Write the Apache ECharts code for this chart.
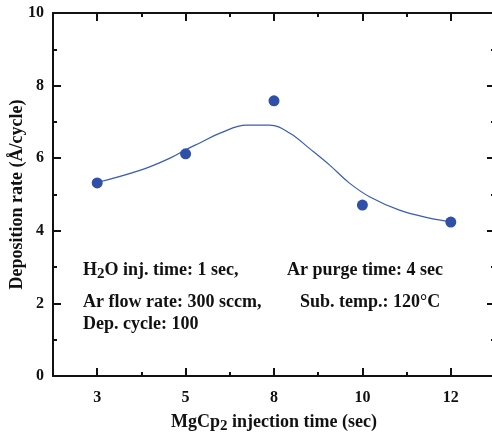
<!DOCTYPE html>
<html>
<head>
<meta charset="utf-8">
<script src="https://cdn.jsdelivr.net/npm/echarts@6/dist/echarts.min.js"></script>
<style>
  html, body { margin: 0; padding: 0; background: #fff; }
  #main { width: 492px; height: 436px; }
</style>
</head>
<body>
<div id="main"></div>
<script>
// MgCp2 injection time (sec)
const categories = ['3', '5', '8', '10', '12'];
// measured deposition rate (A/cycle)
const depositionRate = [5.32, 6.12, 7.58, 4.71, 4.24];
// fitted curve, x given as category index
const fitX = [0, 0.49, 0.83, 1.0, 1.16, 1.39, 1.69, 1.95, 2.18, 2.40, 2.63, 2.85, 3.08, 3.42, 3.76, 4];
const fitY = [5.33, 5.67, 6.01, 6.23, 6.42, 6.69, 6.91, 6.91, 6.69, 6.27, 5.81, 5.32, 4.94, 4.57, 4.35, 4.25];
const yTicks = [0, 2, 4, 6, 8, 10];

const serif = "'Liberation Serif', 'Times New Roman', serif";
const ink = '#111';
const blue = '#2f4fa8';

let chart = echarts.init(document.getElementById('main'), null, { renderer: 'canvas' });

// major ticks at the categories, minor ticks in between
function catAxis (pos, major, show) {
  return {
    type: 'category',
    position: pos,
    data: categories,
    boundaryGap: true,
    axisLine: { show: show, onZero: false, lineStyle: { color: ink, width: 2 } },
    axisTick: {
      show: true,
      inside: true,
      alignWithLabel: major,
      length: major ? 8 : 4,
      lineStyle: { color: ink, width: 2 }
    },
    axisLabel: { show: false },
    splitLine: { show: false }
  };
}

let bottomAxis = catAxis('bottom', true, true);
bottomAxis.axisLabel = {
  show: true,
  margin: 14,
  color: ink,
  fontFamily: serif,
  fontWeight: 'bold',
  fontSize: 16
};
bottomAxis.name = 'MgCp{sub|2} injection time (sec)';
bottomAxis.nameLocation = 'middle';
bottomAxis.nameGap = 34;
bottomAxis.nameMoveOverlap = false;
bottomAxis.nameTextStyle = {
  color: ink,
  fontFamily: serif,
  fontWeight: 'bold',
  fontSize: 18,
  rich: {
    sub: { fontFamily: serif, fontWeight: 'bold', fontSize: 15, verticalAlign: 'bottom', padding: [9, 0, 0, 0] }
  }
};

function valAxis (pos, labels) {
  return {
    type: 'value',
    position: pos,
    min: 0,
    max: 10,
    interval: 2,
    axisLine: { show: true, onZero: false, lineStyle: { color: ink, width: 2 } },
    axisTick: { show: true, inside: true, length: 8, lineStyle: { color: ink, width: 2 } },
    minorTick: { show: true, splitNumber: 2, length: 4, lineStyle: { color: ink, width: 2 } },
    axisLabel: {
      show: labels,
      margin: 9,
      color: ink,
      fontFamily: serif,
      fontWeight: 'bold',
      fontSize: 16,
      customValues: yTicks
    },
    splitLine: { show: false }
  };
}

let leftAxis = valAxis('left', true);
leftAxis.name = 'Deposition rate (Å/cycle)';
leftAxis.nameLocation = 'middle';
leftAxis.nameGap = 27;
leftAxis.nameMoveOverlap = false;
leftAxis.nameTextStyle = { color: ink, fontFamily: serif, fontWeight: 'bold', fontSize: 18 };

let noteStyle = {
  fill: ink,
  font: 'bold 18px ' + serif
};
function note (left, top, text) {
  return {
    type: 'text',
    left: left,
    top: top,
    style: Object.assign({
      text: text,
      rich: {
        sub: { font: 'bold 15px ' + serif, fill: ink, padding: [8, 0, 0, 0] }
      }
    }, noteStyle)
  };
}

chart.setOption({
  animation: false,
  grid: { left: 53, top: 13, width: 442, height: 363, containLabel: false, outerBoundsMode: 'none' },
  xAxis: [
    bottomAxis,
    catAxis('bottom', false, false),
    catAxis('top', true, true),
    catAxis('top', false, false),
    {
      type: 'value',
      min: -0.5,
      max: 4.5,
      show: false
    }
  ],
  yAxis: [leftAxis, valAxis('right', false)],
  series: [
    {
      name: 'fit',
      type: 'line',
      xAxisIndex: 4,
      yAxisIndex: 0,
      data: fitX.map((x, i) => [x, fitY[i]]),
      smooth: 0.4,
      showSymbol: false,
      lineStyle: { color: '#3a5cb8', width: 1.2 },
      z: 2
    },
    {
      name: 'rate',
      type: 'scatter',
      xAxisIndex: 0,
      yAxisIndex: 0,
      data: depositionRate,
      symbolSize: 11,
      itemStyle: { color: blue, opacity: 1 },
      z: 3
    }
  ],
  graphic: [
    note(83, 261, 'H{sub|2}O inj. time: 1 sec,'),
    note(287, 261, 'Ar purge time: 4 sec'),
    note(83, 293, 'Ar flow rate: 300 sccm,'),
    note(300, 293, 'Sub. temp.: 120°C'),
    note(83, 315, 'Dep. cycle: 100')
  ]
});
</script>
</body>
</html>
